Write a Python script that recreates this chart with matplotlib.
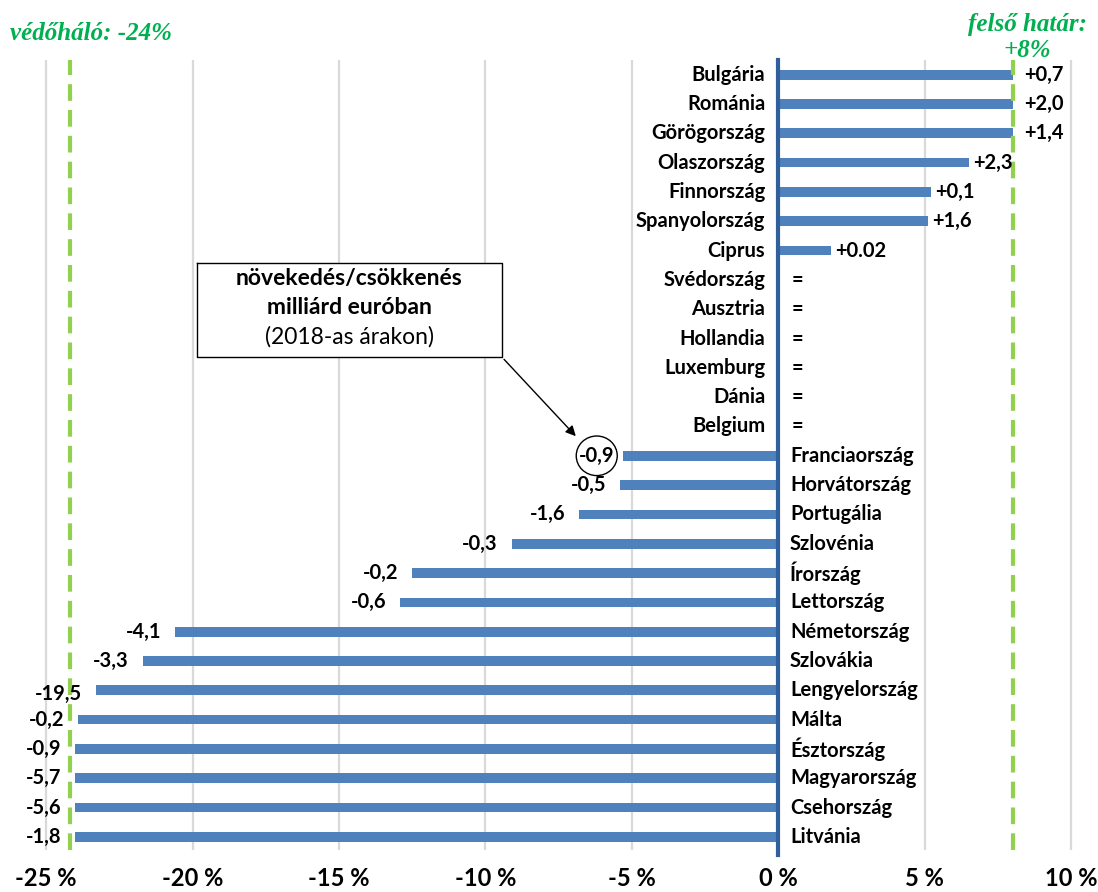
import matplotlib.pyplot as plt
from matplotlib.patches import Ellipse

orszagok = ['Bulgária', 'Románia', 'Görögország', 'Olaszország', 'Finnország',
            'Spanyolország', 'Ciprus', 'Svédország', 'Ausztria', 'Hollandia',
            'Luxemburg', 'Dánia', 'Belgium', 'Franciaország', 'Horvátország',
            'Portugália', 'Szlovénia', 'Írország', 'Lettország', 'Németország',
            'Szlovákia', 'Lengyelország', 'Málta', 'Észtország', 'Magyarország',
            'Csehország', 'Litvánia']
valtozas_szazalek = [8, 8, 8, 6.5, 5.2, 5.1, 1.8, 0, 0, 0, 0, 0, 0,
                     -5.3, -5.4, -6.8, -9.1, -12.5, -12.9, -20.6, -21.7,
                     -23.3, -23.9, -24, -24, -24, -24]
milliard_euro = ['+0,7', '+2,0', '+1,4', '+2,3', '+0,1', '+1,6', '+0.02',
                 '=', '=', '=', '=', '=', '=',
                 '-0,9', '-0,5', '-1,6', '-0,3', '-0,2', '-0,6', '-4,1', '-3,3',
                 '-19,5', '-0,2', '-0,9', '-5,7', '-5,6', '-1,8']
tengely_ertekek = [-25, -20, -15, -10, -5, 0, 5, 10]
vedohalo = -24
felso_hatar = 8

kek = '#4F81BD'
zold_vonal = '#92D050'
zold_szoveg = '#00B050'
betu = 'Lato'
meret = 14.5

fig = plt.figure(figsize=(10.98, 8.92), dpi=100)
ax = fig.add_axes([0.0393, 0.047, 0.939, 0.8857])

y = list(range(len(orszagok)))
ax.barh(y, valtozas_szazalek, height=0.33, color=kek, zorder=3)

ax.set_xlim(-25.1, 10.1)
ax.set_ylim(26.45, -0.5)
ax.set_xticks(tengely_ertekek)
ax.set_xticklabels([str(v) + ' %' for v in tengely_ertekek],
                   fontsize=17, fontweight='bold', family=betu)
ax.tick_params(axis='x', length=0, pad=12)
ax.set_yticks([])
for s in ax.spines.values():
    s.set_visible(False)
ax.grid(True, axis='x', color='#D9D9D9', linewidth=1.6, zorder=0)

# nulla tengely
ax.axvline(0, ymin=-0.006, ymax=1, color='#30609C', linewidth=3, zorder=4, clip_on=False)

# hatarok
ax.axvline(vedohalo - 0.2, color=zold_vonal, linewidth=3, dashes=(4, 2.2), zorder=5)
ax.axvline(felso_hatar, color=zold_vonal, linewidth=3, dashes=(4, 2.2), zorder=5)

for i, (orsz, v, lab) in enumerate(zip(orszagok, valtozas_szazalek, milliard_euro)):
    if v >= 0:
        ax.text(-0.45, i, orsz, ha='right', va='center', fontsize=meret,
                fontweight='bold', family=betu, zorder=6)
    else:
        ax.text(0.4, i, orsz, ha='left', va='center', fontsize=meret,
                fontweight='bold', family=betu, zorder=6)
    if v > 0:
        off = 11 if v >= felso_hatar else 4
        ax.annotate(lab, (v, i), xytext=(off, 0), textcoords='offset pixels',
                    ha='left', va='center', fontsize=meret, fontweight='bold',
                    family=betu, zorder=6)
    elif v == 0:
        ax.text(0.45, i, lab, ha='left', va='center', fontsize=meret,
                fontweight='bold', family=betu, zorder=6)
    else:
        off = -9 if i == 13 else -14
        dy = -4 if lab == '-19,5' else 0
        ax.annotate(lab, (v, i), xytext=(off, dy), textcoords='offset pixels',
                    ha='right', va='center', fontsize=meret, fontweight='bold',
                    family=betu, zorder=6)

# kor a francia ertek korul
ax.add_patch(Ellipse((-6.2, 13), 1.4, 1.35, fill=False, edgecolor='black',
                     linewidth=1, zorder=6))

# magyarazo doboz
ax.plot([-19.86, -9.43, -9.43, -19.86, -19.86], [6.41, 6.41, 9.64, 9.64, 6.41],
        color='black', linewidth=1, zorder=6)
ax.add_patch(plt.Rectangle((-19.86, 6.41), 10.43, 3.23, facecolor='white',
                           edgecolor='none', zorder=5.5))
ax.text(-14.65, 6.95, 'növekedés/csökkenés', ha='center', va='center',
        fontsize=16.5, fontweight='bold', family=betu, zorder=7)
ax.text(-14.65, 7.95, 'milliárd euróban', ha='center', va='center',
        fontsize=16.5, fontweight='bold', family=betu, zorder=7)
ax.text(-14.65, 8.95, '(2018-as árakon)', ha='center', va='center',
        fontsize=16.5, family=betu, zorder=7)
ax.annotate('', xy=(-6.85, 12.4), xytext=(-9.43, 9.64),
            arrowprops=dict(arrowstyle='-|>', color='black', lw=1,
                            mutation_scale=15), zorder=7)

fig.text(0.009, 0.962, 'védőháló: -24%', color=zold_szoveg, fontsize=18,
         fontweight='bold', fontstyle='italic', family='Liberation Serif',
         ha='left', va='center')
fig.text(0.936, 0.958, 'felső határ:\n+8%', color=zold_szoveg, fontsize=18,
         fontweight='bold', fontstyle='italic', family='Liberation Serif',
         ha='center', va='center', linespacing=1.2)

fig.savefig('out.png', dpi=100)
